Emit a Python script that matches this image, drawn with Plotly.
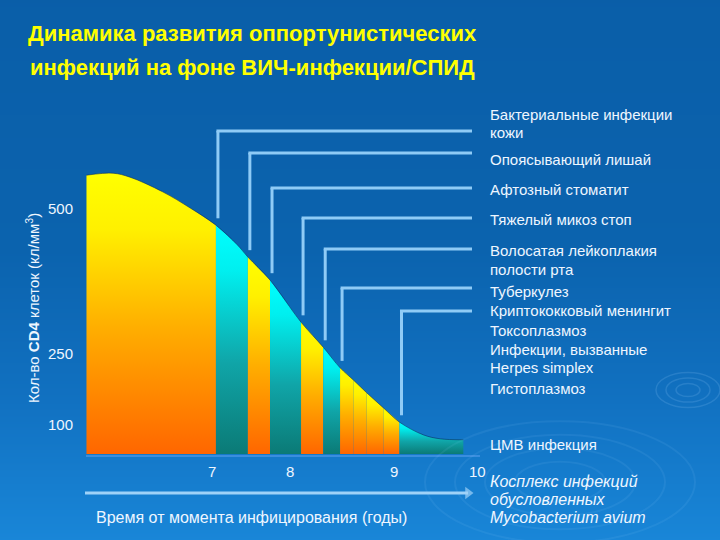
import plotly.graph_objects as go

# ---------------- data ----------------
curve_years = [5.59, 5.89, 6.08, 6.45, 6.76, 7.05, 7.29, 7.41, 7.66, 8.01, 8.26,
               8.45, 8.60, 8.75, 8.94, 9.12, 9.39, 9.58, 9.84]
curve_cd4 = [569, 573, 565, 535, 502, 467, 427, 402, 355, 269, 218,
             176, 151, 125, 94, 65, 39, 31, 29]

band_edges = [5.59, 7.05, 7.41, 7.66, 8.01, 8.26, 8.45, 8.60, 8.75, 8.94, 9.12, 9.84]
band_kind = ["warm", "cool", "warm", "cool", "warm", "cool",
             "warm", "warm", "warm", "warm", "cool"]

# onset of infections (years) with leader lines
onset_years = [7.05, 7.41, 7.66, 8.01, 8.26, 8.45, 9.12]

xtick_pos = [7.0, 7.88, 9.06, 10.0]
xtick_text = ["7", "8", "9", "10"]
ytick_pos = [502, 206, 61]
ytick_text = ["500", "250", "100"]

infection_lines = ["Бактериальные инфекции", "кожи", "Опоясывающий лишай",
                   "Афтозный стоматит", "Тяжелый микоз стоп",
                   "Волосатая лейкоплакия", "полости рта", "Туберкулез",
                   "Криптококковый менингит", "Токсоплазмоз",
                   "Инфекции, вызванные", "Herpes simplex", "Гистоплазмоз",
                   "ЦМВ инфекция"]
mac_lines = ["Косплекс инфекций", "обусловленных", "Mycobacterium avium"]

title_lines = ["Динамика развития оппортунистических",
               "инфекций на фоне ВИЧ-инфекции/СПИД"]
x_title = "Время от момента инфицирования (годы)"
y_title = "Кол-во <b>CD4</b> клеток (кл/мм<sup>3</sup>)"

# ---------------- layout helpers (pixel placement) ----------------
W, H = 720, 540
PX_PER_YEAR = 88.67
X0_PX = 211.5          # pixel of year 7
PX_PER_UNIT = 0.49
BASE_PX = 454          # pixel of zero CD4


def yr(p):
    return 7 + (p - X0_PX) / PX_PER_YEAR


def val(q):
    return (BASE_PX - q) / PX_PER_UNIT


def px(p):
    return p / W


def py(q):
    return 1 - q / H


FONT = "Liberation Sans, Arial, sans-serif"
TXT = "#eef6ff"
LEAD = "#8fcbf6"

fig = go.Figure()

# background gradient
bg_rows_px = [-20, 250, 400, 560]
bg_colors = ["#0a5ea8", "#0b63ae", "#1171c1", "#1a89db"]
fig.add_trace(go.Heatmap(
    x=[yr(-20), yr(740)],
    y=[val(q) for q in bg_rows_px],
    z=[[i, i] for i in range(len(bg_rows_px))],
    colorscale=[[i / (len(bg_colors) - 1), c] for i, c in enumerate(bg_colors)],
    zsmooth="best", showscale=False, hoverinfo="skip"))

warm_scale = [[0, "#ff6600"], [0.45, "#ffae00"], [0.8, "#fff000"], [1, "#ffff00"]]
cool_scale = [[0, "#0b7a76"], [0.4, "#10a5a8"], [0.8, "#00efef"], [1, "#00ffff"]]

for i, kind in enumerate(band_kind):
    a, b = band_edges[i], band_edges[i + 1]
    xs = [x for x in curve_years if a - 1e-9 <= x <= b + 1e-9]
    ys = [curve_cd4[curve_years.index(x)] for x in xs]
    fig.add_trace(go.Scatter(
        x=xs, y=ys, mode="lines", line=dict(width=0, shape="spline"),
        fill="tozeroy",
        fillgradient=dict(type="vertical", start=0, stop=max(ys),
                          colorscale=warm_scale if kind == "warm" else cool_scale),
        hoverinfo="skip", showlegend=False))

# thin dark rim on the curve
fig.add_trace(go.Scatter(x=curve_years, y=curve_cd4, mode="lines",
                         line=dict(width=1, color="rgba(8,40,90,0.55)", shape="spline"),
                         hoverinfo="skip", showlegend=False))

# time arrow (line with arrow head marker)
fig.add_trace(go.Scatter(x=[yr(85), yr(468)], y=[val(493), val(493)], mode="lines+markers",
                         line=dict(width=3, color="#9fd2f8"),
                         marker=dict(symbol=["circle", "triangle-right"], size=[0, 11],
                                     color="#9fd2f8", line=dict(width=0)),
                         hoverinfo="skip", showlegend=False))

shapes = []
# base line
shapes.append(dict(type="line", x0=yr(86), x1=yr(480), y0=val(456), y1=val(456),
                   line=dict(color="#3a8ede", width=2)))

# leader lines
lead_label_px = [131, 153, 188, 218, 249, 288, 311]
for x, q in zip(onset_years, lead_label_px):
    xc = x + 2 / PX_PER_YEAR
    ytop = val(q)
    c = curve_cd4[curve_years.index(x)]
    shapes.append(dict(type="line", x0=xc, x1=xc, y0=c + 14, y1=ytop,
                       line=dict(color=LEAD, width=3)))
    shapes.append(dict(type="line", x0=xc - 1.5 / PX_PER_YEAR, x1=yr(472), y0=ytop, y1=ytop,
                       line=dict(color=LEAD, width=3)))

# ripples
for r in [12, 22, 32]:
    shapes.append(dict(type="circle", xref="paper", yref="paper",
                       x0=px(688 - r), x1=px(688 + r), y0=py(390 - r * 0.55), y1=py(390 + r * 0.55),
                       line=dict(color="rgba(160,210,255,0.16)", width=1.5)))
for r in [45, 75, 105, 135]:
    shapes.append(dict(type="circle", xref="paper", yref="paper",
                       x0=px(560 - r), x1=px(560 + r), y0=py(482 - r * 0.45), y1=py(482 + r * 0.45),
                       line=dict(color="rgba(160,210,255,0.09)", width=2)))

ann = []
# title
for t, q in zip(title_lines, [33, 67]):
    ann.append(dict(x=px(253), y=py(q), xref="paper", yref="paper", text="<b>" + t + "</b>",
                    showarrow=False, xanchor="center", yanchor="middle",
                    font=dict(family=FONT, size=22, color="#ffff00")))

# infection labels
inf_px = [114, 132, 159, 189, 219, 250, 269, 291, 310, 330, 349, 367, 388, 444]
for t, q in zip(infection_lines, inf_px):
    ann.append(dict(x=px(488), y=py(q), xref="paper", yref="paper", text=t,
                    showarrow=False, xanchor="left", yanchor="middle",
                    font=dict(family=FONT, size=15, color=TXT)))
for t, q in zip(mac_lines, [481, 499, 517]):
    ann.append(dict(x=px(488), y=py(q), xref="paper", yref="paper", text="<i>" + t + "</i>",
                    showarrow=False, xanchor="left", yanchor="middle",
                    font=dict(family=FONT, size=16, color=TXT)))

# tick labels
for x, t in zip(xtick_pos, xtick_text):
    ann.append(dict(x=x, y=val(471), text=t, showarrow=False, xanchor="center", yanchor="middle",
                    font=dict(family=FONT, size=15, color=TXT)))
for y, t in zip(ytick_pos, ytick_text):
    ann.append(dict(x=yr(60), y=y, text=t, showarrow=False, xanchor="center", yanchor="middle",
                    font=dict(family=FONT, size=15, color=TXT)))

# axis titles
ann.append(dict(x=px(252), y=py(517), xref="paper", yref="paper", text=x_title, showarrow=False,
                xanchor="center", yanchor="middle", font=dict(family=FONT, size=16, color=TXT)))
ann.append(dict(x=px(32), y=py(308), xref="paper", yref="paper", text=y_title, showarrow=False,
                textangle=-90, xanchor="center", yanchor="middle",
                font=dict(family=FONT, size=15, color=TXT)))

fig.update_layout(
    width=W, height=H, margin=dict(l=0, r=0, t=0, b=0),
    paper_bgcolor="#0b62ad", plot_bgcolor="#0b62ad",
    showlegend=False, shapes=shapes, annotations=ann,
    xaxis=dict(range=[yr(0), yr(W)], visible=False, fixedrange=True),
    yaxis=dict(range=[val(H), val(0)], visible=False, fixedrange=True),
)

fig.write_html("out.html", config={"displayModeBar": False},
               post_script="document.body.style.margin='0';document.body.style.overflow='hidden';")
